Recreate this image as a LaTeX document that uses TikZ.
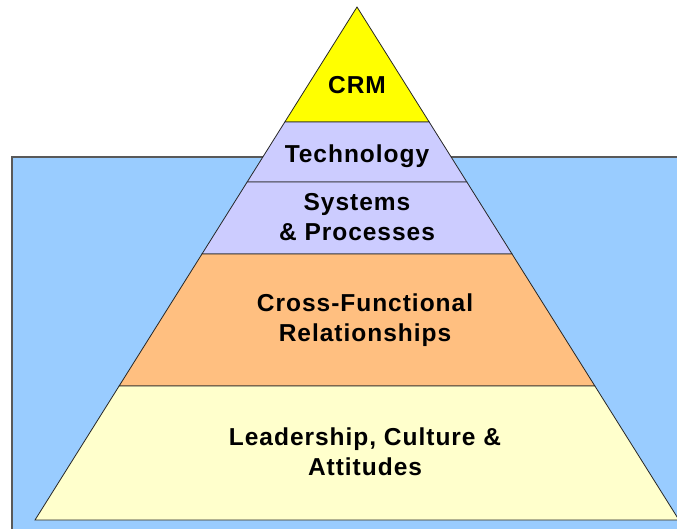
\documentclass[tikz,border=0pt]{standalone}
\usepackage{fontspec}
\setmainfont{Liberation Sans}[LetterSpace=4]
\usepackage{xcolor}
\usetikzlibrary{calc}

\definecolor{sea}{RGB}{153,204,255}
\definecolor{crmyellow}{RGB}{255,255,0}
\definecolor{lavender}{RGB}{204,204,255}
\definecolor{peach}{RGB}{255,191,128}
\definecolor{cream}{RGB}{255,255,204}

\begin{document}
\begin{tikzpicture}[x=1pt, y=-1pt,
      layer/.style = {draw=black!85, line width=0.8pt},
      lbl/.style = {align=center, text=black,
        font=\fontsize{24.5}{30}\selectfont\bfseries}]
  \useasboundingbox (0,0) rectangle (677,528);
  % water
  \fill[sea] (12,157) rectangle (690,540);
  \draw[black!65, line width=1.2pt] (12,540) -- (12,157) -- (690,157);
  % pyramid
  \coordinate (apex) at (357,7);
  \coordinate (bl) at (35,520);
  \coordinate (br) at (679,520);
  \foreach \t/\n in {0.2242/a, 0.3411/b, 0.4815/c, 0.7388/d} {
    \coordinate (l\n) at ($(apex)!\t!(bl)$);
    \coordinate (r\n) at ($(apex)!\t!(br)$);
  }
  \filldraw[layer, fill=crmyellow] (apex) -- (ra) -- (la) -- cycle;
  \filldraw[layer, fill=lavender] (la) -- (ra) -- (rb) -- (lb) -- cycle;
  \filldraw[layer, fill=lavender] (lb) -- (rb) -- (rc) -- (lc) -- cycle;
  \filldraw[layer, fill=peach] (lc) -- (rc) -- (rd) -- (ld) -- cycle;
  \filldraw[layer, fill=cream] (ld) -- (rd) -- (br) -- (bl) -- cycle;
  % labels
  \node[lbl] (crm) at (357,85) {CRM};
  \node[lbl] (tech) at (357,156) {Technology};
  \node[lbl] (sys) at (357,217) {Systems\\\& Processes};
  \node[lbl] (cross) at (365,320) {Cross-Functional\\Relationships};
  \node[lbl] (lead) at (365,452) {Leadership, Culture \&\\Attitudes};
\end{tikzpicture}
\end{document}
